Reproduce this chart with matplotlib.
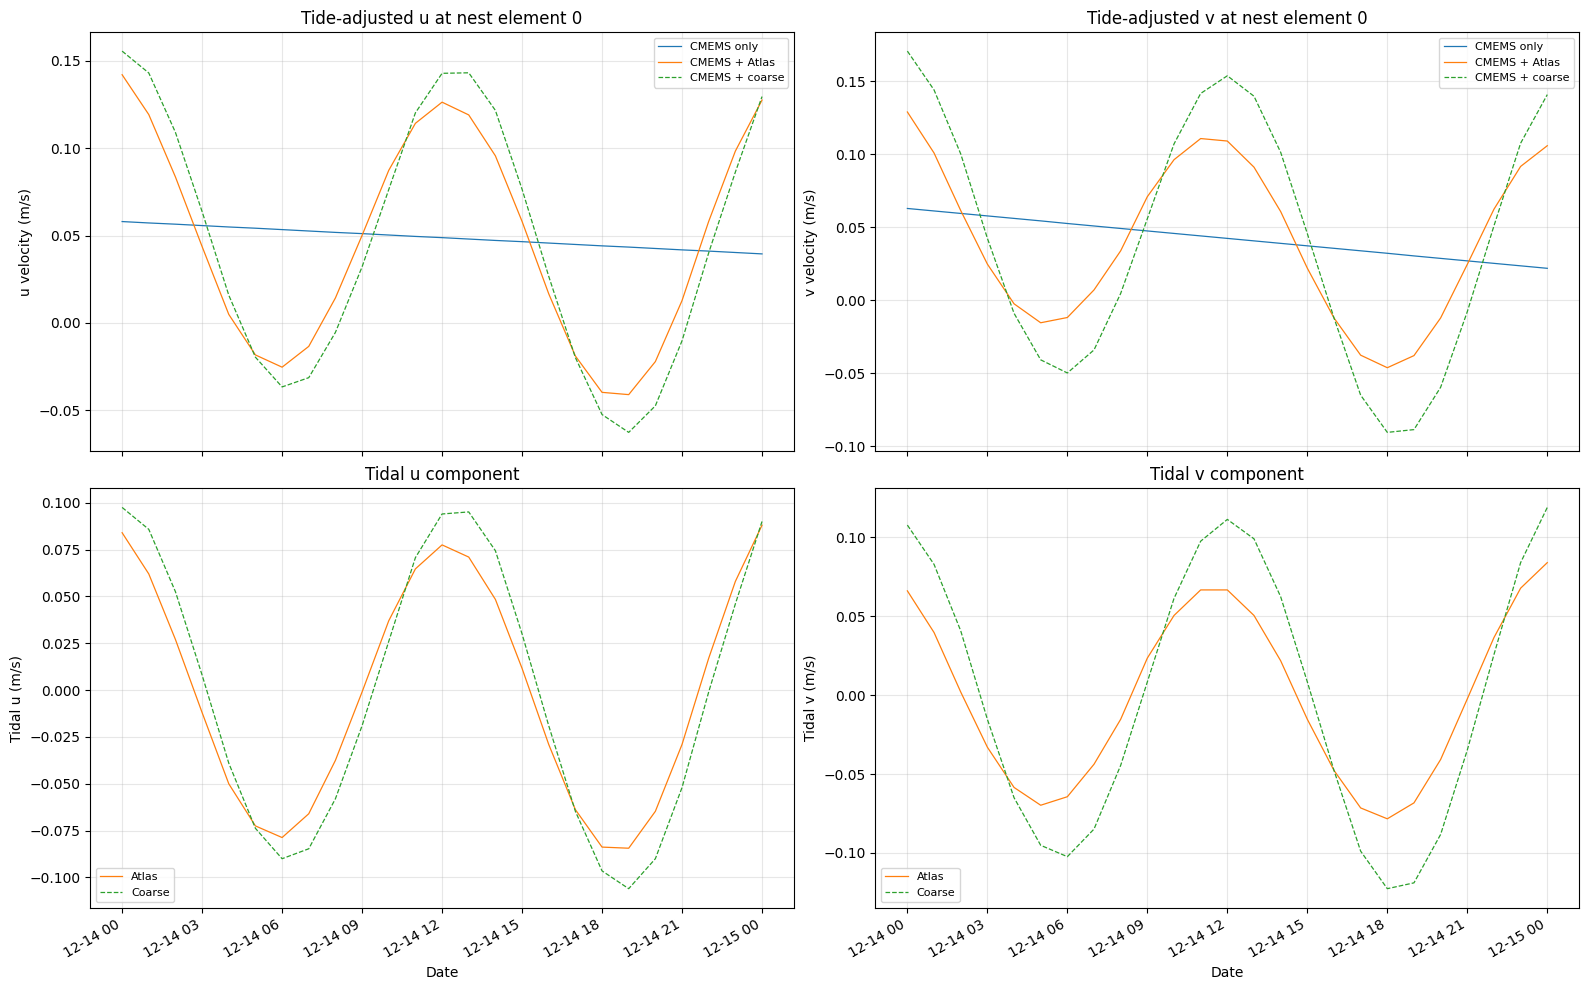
import numpy as np
import pandas as pd
import matplotlib
matplotlib.use('Agg')
import matplotlib.pyplot as plt
import matplotlib.dates as mdates

# hourly times, 12-14 00 to 12-15 00
times = pd.date_range('2024-12-14 00:00', '2024-12-15 00:00', freq='h')

# CMEMS only (no tide)
u_cmems = [0.0580, 0.0572, 0.0565, 0.0557, 0.0549, 0.0542, 0.0534, 0.0526, 0.0518,
           0.0511, 0.0503, 0.0495, 0.0488, 0.0480, 0.0472, 0.0465, 0.0457, 0.0449,
           0.0441, 0.0434, 0.0426, 0.0418, 0.0411, 0.0403, 0.0395]
v_cmems = [0.0630, 0.0613, 0.0596, 0.0579, 0.0562, 0.0545, 0.0527, 0.0510, 0.0493,
           0.0476, 0.0459, 0.0442, 0.0425, 0.0408, 0.0391, 0.0374, 0.0357, 0.0340,
           0.0323, 0.0305, 0.0288, 0.0271, 0.0254, 0.0237, 0.0220]

# tide-adjusted series
u_adj_atlas = [0.1420, 0.1192, 0.0835, 0.0437, 0.0049, -0.0183, -0.0253, -0.0134, 0.0143,
               0.0501, 0.0873, 0.1142, 0.1263, 0.1190, 0.0956, 0.0581, 0.0167, -0.0189,
               -0.0397, -0.0410, -0.0221, 0.0128, 0.0581, 0.0983, 0.1275]
u_adj_coarse = [0.1555, 0.1430, 0.1090, 0.0637, 0.0159, -0.0196, -0.0366, -0.0313, -0.0054,
                0.0321, 0.0763, 0.1202, 0.1428, 0.1431, 0.1216, 0.0765, 0.0267, -0.0198,
                -0.0524, -0.0626, -0.0474, -0.0102, 0.0401, 0.0863, 0.1295]
v_adj_atlas = [0.1291, 0.1010, 0.0616, 0.0249, -0.0023, -0.0153, -0.0117, 0.0072, 0.0340,
               0.0711, 0.0964, 0.1109, 0.1092, 0.0913, 0.0609, 0.0221, -0.0120, -0.0375,
               -0.0461, -0.0378, -0.0120, 0.0247, 0.0625, 0.0918, 0.1060]
v_adj_coarse = [0.1708, 0.1442, 0.1004, 0.0426, -0.0088, -0.0407, -0.0497, -0.0339, 0.0048,
                0.0560, 0.1072, 0.1418, 0.1539, 0.1399, 0.1015, 0.0458, -0.0120, -0.0649,
                -0.0904, -0.0885, -0.0595, -0.0077, 0.0511, 0.1077, 0.1410]

# tidal components alone
u_tide_atlas = [0.0840, 0.0620, 0.0270, -0.0120, -0.0500, -0.0725, -0.0787, -0.0660, -0.0375,
                -0.0010, 0.0370, 0.0647, 0.0775, 0.0710, 0.0484, 0.0116, -0.0290, -0.0638,
                -0.0838, -0.0844, -0.0647, -0.0290, 0.0170, 0.0580, 0.0880]
u_tide_coarse = [0.0975, 0.0858, 0.0525, 0.0080, -0.0390, -0.0738, -0.0900, -0.0847, -0.0580,
                 -0.0190, 0.0260, 0.0707, 0.0940, 0.0951, 0.0744, 0.0300, -0.0190, -0.0647,
                 -0.0965, -0.1060, -0.0900, -0.0520, -0.0010, 0.0460, 0.0900]
v_tide_atlas = [0.0661, 0.0397, 0.0020, -0.0330, -0.0585, -0.0698, -0.0644, -0.0438, -0.0153,
                0.0235, 0.0505, 0.0667, 0.0667, 0.0505, 0.0218, -0.0153, -0.0477, -0.0715,
                -0.0784, -0.0683, -0.0408, -0.0024, 0.0365, 0.0678, 0.0840]
v_tide_coarse = [0.1078, 0.0829, 0.0408, -0.0153, -0.0650, -0.0952, -0.1024, -0.0849, -0.0445,
                 0.0084, 0.0613, 0.0976, 0.1114, 0.0991, 0.0624, 0.0084, -0.0477, -0.0989,
                 -0.1227, -0.1190, -0.0883, -0.0348, 0.0257, 0.0840, 0.1190]

lw = 0.9
fig, axes = plt.subplots(2, 2, figsize=(15.89, 9.9), dpi=100, sharex=True)

# top row: tide-adjusted velocities
for ax, comp, cm, at, co in [(axes[0, 0], 'u', u_cmems, u_adj_atlas, u_adj_coarse),
                             (axes[0, 1], 'v', v_cmems, v_adj_atlas, v_adj_coarse)]:
    ax.plot(times, cm, color='C0', lw=lw, label='CMEMS only')
    ax.plot(times, at, color='C1', lw=lw, label='CMEMS + Atlas')
    ax.plot(times, co, color='C2', lw=lw, ls='--', label='CMEMS + coarse')
    ax.set_title('Tide-adjusted %s at nest element 0' % comp)
    ax.set_ylabel('%s velocity (m/s)' % comp)
    ax.legend(loc='upper right', fontsize=8)
    ax.grid(alpha=0.3)

# bottom row: tidal components
for ax, comp, at, co in [(axes[1, 0], 'u', u_tide_atlas, u_tide_coarse),
                         (axes[1, 1], 'v', v_tide_atlas, v_tide_coarse)]:
    ax.plot(times, at, color='C1', lw=lw, label='Atlas')
    ax.plot(times, co, color='C2', lw=lw, ls='--', label='Coarse')
    ax.set_title('Tidal %s component' % comp)
    ax.set_ylabel('Tidal %s (m/s)' % comp)
    ax.set_xlabel('Date')
    ax.legend(loc='lower left', fontsize=8)
    ax.grid(alpha=0.3)

axes[1, 0].xaxis.set_major_locator(mdates.HourLocator(byhour=range(0, 24, 3)))
axes[1, 0].xaxis.set_major_formatter(mdates.DateFormatter('%m-%d %H'))
fig.autofmt_xdate()
fig.tight_layout(pad=0.7)
fig.savefig('out.png', dpi=100)
